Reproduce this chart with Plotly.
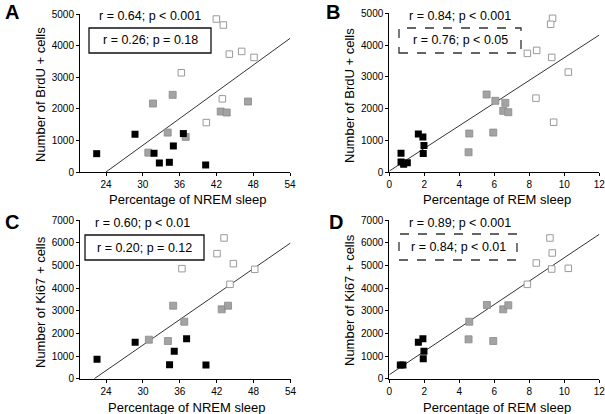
import plotly.graph_objects as go

W, H = 605, 414

# ---------------- data ----------------
# Panel A: NREM % vs BrdU+ cells
a_black_x = [22.48, 28.73, 31.83, 32.70, 34.33, 34.98, 36.61, 40.25]
a_black_y = [580, 1195, 592, 285, 307, 824, 1216, 222]
a_gray_x = [30.90, 31.66, 34.87, 34.06, 36.99, 42.70, 43.68, 47.15]
a_gray_y = [613, 2167, 2442, 1247, 1110, 1913, 1882, 2230]
a_white_x = [41.99, 43.13, 44.11, 46.12, 48.13, 36.28, 42.97, 40.36]
a_white_y = [4841, 4651, 3731, 3816, 3626, 3140, 2315, 1564]
a_fit_x = [24.0, 54]
a_fit_y = [0, 4228]

# Panel B: REM % vs BrdU+ cells
b_black_x = [0.67, 0.67, 0.82, 1.03, 1.66, 1.92, 1.98, 1.94]
b_black_y = [589, 316, 242, 295, 1200, 1105, 832, 579]
b_gray_x = [5.56, 6.06, 6.63, 6.51, 6.8, 4.57, 5.94, 4.53]
b_gray_y = [2442, 2242, 2179, 1926, 1884, 1211, 1242, 621]
b_white_x = [9.33, 9.22, 7.89, 8.42, 9.28, 10.23, 8.38, 9.39]
b_white_y = [4842, 4653, 3737, 3832, 3611, 3147, 2326, 1568]
b_fit_x = [0, 12]
b_fit_y = [30, 4316]

# Panel C: NREM % vs Ki67+ cells
c_black_x = [22.53, 28.73, 35.09, 34.33, 37.10, 40.25]
c_black_y = [855, 1606, 1208, 619, 1768, 604]
c_gray_x = [34.92, 36.72, 30.96, 34.06, 42.81, 43.84]
c_gray_y = [3227, 2520, 1724, 1665, 3065, 3227]
c_white_x = [36.34, 42.05, 43.19, 44.71, 48.19, 44.16]
c_white_y = [4863, 5526, 6219, 5084, 4833, 4170]
c_fit_x = [22.09, 54]
c_fit_y = [0, 5998]

# Panel D: REM % vs Ki67+ cells
d_black_x = [0.63, 0.78, 1.66, 1.92, 1.98, 1.94]
d_black_y = [604, 604, 1606, 1768, 1208, 884]
d_gray_x = [5.58, 6.51, 6.8, 4.57, 4.53, 5.94]
d_gray_y = [3257, 3065, 3242, 2520, 1739, 1665]
d_white_x = [9.18, 9.31, 8.4, 9.28, 10.23, 7.89]
d_white_y = [6219, 5556, 5113, 4848, 4878, 4170]
d_fit_x = [0, 12]
d_fit_y = [177, 6381]

nrem_ticks = [24, 30, 36, 42, 48, 54]
rem_ticks = [0, 2, 4, 6, 8, 10, 12]
brdu_ticks = [0, 1000, 2000, 3000, 4000, 5000]
ki67_ticks = [0, 1000, 2000, 3000, 4000, 5000, 6000, 7000]

all_stats = ["r = 0.64; p < 0.001", "r = 0.84; p < 0.001", "r = 0.60; p < 0.01", "r = 0.89; p < 0.001"]
box_stats = ["r = 0.26; p = 0.18", "r = 0.76; p < 0.05", "r = 0.20; p = 0.12", "r = 0.84; p < 0.01"]
letters = ["A", "B", "C", "D"]
xtitles = ["Percentage of NREM sleep", "Percentage of REM sleep", "Percentage of NREM sleep", "Percentage of REM sleep"]
ytitles = ["Number of BrdU + cells", "Number of BrdU + cells", "Number of Ki67 + cells", "Number of Ki67 + cells"]

FONT = "Arial, Liberation Sans, sans-serif"

# ---------------- layout helpers (pixel geometry) ----------------
def px_x(p):
    return p / W

def px_y(p):
    return 1 - p / H

panels = [
    dict(x=(80, 290), y=(172, 14), xr=[19.76, 54], yr=[0, 5000], xt=nrem_ticks, yt=brdu_ticks,
         bk=(a_black_x, a_black_y), gr=(a_gray_x, a_gray_y), wh=(a_white_x, a_white_y), fit=(a_fit_x, a_fit_y),
         stat_pos=(150, 16), box=(89, 28, 211, 53), dash=False, letter_pos=(12, 12),
         ytitle=(40, 95), xtitle=(188, 200)),
    dict(x=(389.3, 599.3), y=(172, 13.3), xr=[0, 12], yr=[0, 5000], xt=rem_ticks, yt=brdu_ticks,
         bk=(b_black_x, b_black_y), gr=(b_gray_x, b_gray_y), wh=(b_white_x, b_white_y), fit=(b_fit_x, b_fit_y),
         stat_pos=(460, 16), box=(399, 28, 521, 53), dash=True, letter_pos=(333, 12),
         ytitle=(349, 96), xtitle=(497, 200)),
    dict(x=(80, 290.5), y=(378.7, 220.3), xr=[19.76, 54], yr=[0, 7000], xt=nrem_ticks, yt=ki67_ticks,
         bk=(c_black_x, c_black_y), gr=(c_gray_x, c_gray_y), wh=(c_white_x, c_white_y), fit=(c_fit_x, c_fit_y),
         stat_pos=(142, 223.5), box=(85, 235, 204, 260), dash=False, letter_pos=(12, 222),
         ytitle=(40, 302), xtitle=(187, 407)),
    dict(x=(389.3, 599.3), y=(378.7, 220.3), xr=[0, 12], yr=[0, 7000], xt=rem_ticks, yt=ki67_ticks,
         bk=(d_black_x, d_black_y), gr=(d_gray_x, d_gray_y), wh=(d_white_x, d_white_y), fit=(d_fit_x, d_fit_y),
         stat_pos=(460, 223), box=(399, 234, 517, 260), dash=True, letter_pos=(336, 222),
         ytitle=(349, 300), xtitle=(497, 407)),
]

fig = go.Figure()
annotations = []
shapes = []
layout = {}

for i, p in enumerate(panels):
    n = "" if i == 0 else str(i + 1)
    xa, ya = "x" + n, "y" + n
    fx, fy = p["fit"]
    fig.add_trace(go.Scatter(x=fx, y=fy, mode="lines", line=dict(color="#333333", width=1),
                             xaxis=xa, yaxis=ya, showlegend=False, hoverinfo="skip"))
    fig.add_trace(go.Scatter(x=p["wh"][0], y=p["wh"][1], mode="markers",
                             marker=dict(symbol="square", size=6.5, color="white",
                                         line=dict(color="#9a9a9a", width=1)),
                             xaxis=xa, yaxis=ya, showlegend=False))
    fig.add_trace(go.Scatter(x=p["gr"][0], y=p["gr"][1], mode="markers",
                             marker=dict(symbol="square", size=7, color="#a3a3a3",
                                         line=dict(color="#8a8a8a", width=0.8)),
                             xaxis=xa, yaxis=ya, showlegend=False))
    fig.add_trace(go.Scatter(x=p["bk"][0], y=p["bk"][1], mode="markers",
                             marker=dict(symbol="square", size=7, color="black",
                                         line=dict(color="black", width=0)),
                             xaxis=xa, yaxis=ya, showlegend=False))

    axcommon = dict(showgrid=False, zeroline=False, showline=True, linecolor="black", linewidth=1,
                    ticks="outside", ticklen=3, tickcolor="black", tickwidth=1, automargin=False,
                    ticklabeloverflow="allow",
                    tickfont=dict(family=FONT, size=10, color="black"))
    layout["xaxis" + n] = dict(axcommon, domain=[px_x(p["x"][0]), px_x(p["x"][1])], range=p["xr"],
                               tickvals=p["xt"], anchor=ya)
    layout["yaxis" + n] = dict(axcommon, domain=[px_y(p["y"][0]), px_y(p["y"][1])], range=p["yr"],
                               tickvals=p["yt"], anchor=xa)

    annotations.append(dict(text=ytitles[i], x=px_x(p["ytitle"][0]), y=px_y(p["ytitle"][1]),
                            xref="paper", yref="paper", showarrow=False, textangle=-90,
                            font=dict(family=FONT, size=13, color="black"),
                            xanchor="center", yanchor="middle"))
    annotations.append(dict(text=xtitles[i], x=px_x(p["xtitle"][0]), y=px_y(p["xtitle"][1]),
                            xref="paper", yref="paper", showarrow=False,
                            font=dict(family=FONT, size=13, color="black"),
                            xanchor="center", yanchor="middle"))
    annotations.append(dict(text=all_stats[i], x=px_x(p["stat_pos"][0]), y=px_y(p["stat_pos"][1]),
                            xref="paper", yref="paper", showarrow=False,
                            font=dict(family=FONT, size=12.5, color="black"),
                            xanchor="center", yanchor="middle"))
    bx0, by0, bx1, by1 = p["box"]
    annotations.append(dict(text=box_stats[i], x=px_x((bx0 + bx1) / 2), y=px_y((by0 + by1) / 2),
                            xref="paper", yref="paper", showarrow=False,
                            font=dict(family=FONT, size=12.5, color="black"),
                            xanchor="center", yanchor="middle"))
    shapes.append(dict(type="rect", xref="paper", yref="paper",
                       x0=px_x(bx0), x1=px_x(bx1), y0=px_y(by1), y1=px_y(by0),
                       line=dict(color="#111111" if not p["dash"] else "#333333", width=1.3,
                                 dash="dash" if p["dash"] else "solid"),
                       fillcolor="rgba(0,0,0,0)"))
    annotations.append(dict(text="<b>" + letters[i] + "</b>", x=px_x(p["letter_pos"][0]),
                            y=px_y(p["letter_pos"][1]), xref="paper", yref="paper", showarrow=False,
                            font=dict(family=FONT, size=20, color="black"),
                            xanchor="center", yanchor="middle"))

fig.update_layout(**layout)
fig.update_layout(width=W, height=H, margin=dict(l=0, r=0, t=0, b=0, autoexpand=False),
                  paper_bgcolor="white", plot_bgcolor="white",
                  annotations=annotations, shapes=shapes,
                  font=dict(family=FONT, color="black"))

fig.write_html("out.html", config={"displayModeBar": False},
               post_script="document.body.style.margin='0';document.body.style.overflow='hidden';")
